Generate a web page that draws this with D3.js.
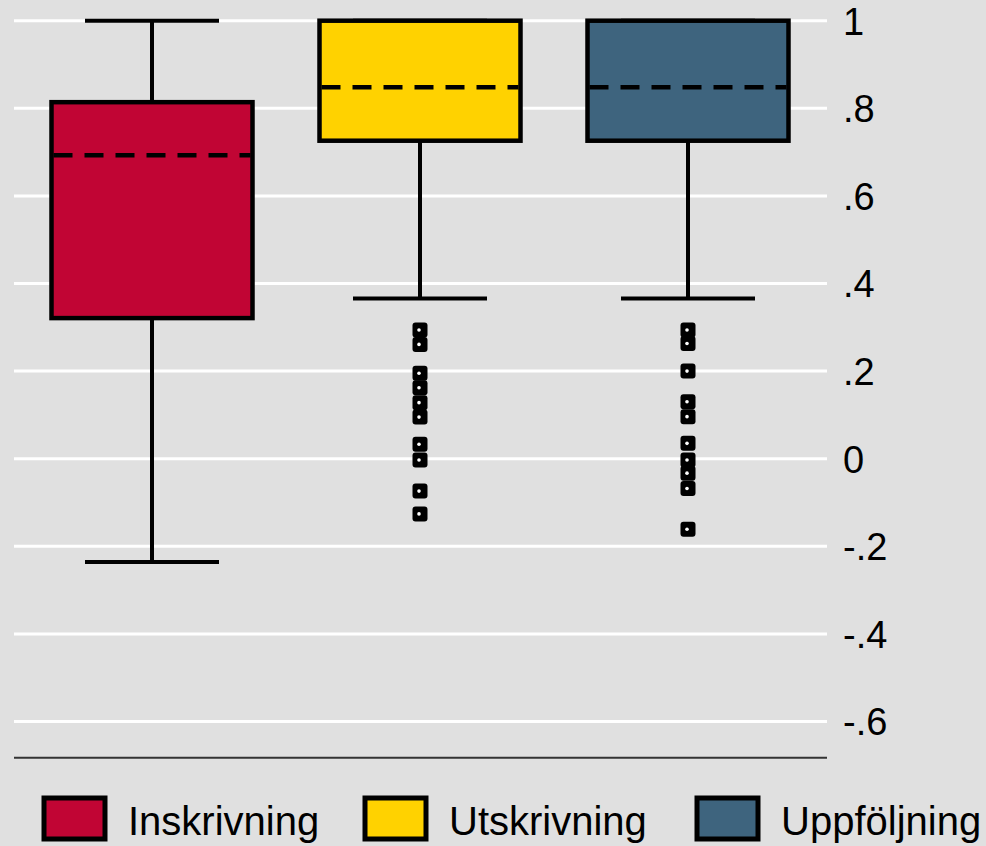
<!DOCTYPE html>
<html>
<head>
<meta charset="utf-8">
<script src="https://cdn.jsdelivr.net/npm/d3@7"></script>
<style>
  body { margin: 0; background: #e0e0e0; }
  svg { display: block; font-family: "Liberation Sans", Arial, sans-serif; }
</style>
</head>
<body>
<div id="chart"></div>
<script>
// categories and box statistics
const groups = ["Inskrivning", "Utskrivning", "Uppföljning"];
const colors = ["#c10534", "#ffd200", "#3e647e"];
const lowerWhisker = [-0.236, 0.366, 0.366];
const q1 = [0.321, 0.726, 0.726];
const median = [0.693, 0.848, 0.848];
const q3 = [0.814, 1, 1];
const upperWhisker = [1, 1, 1];
const outliers = [
    [],
    [0.294, 0.261, 0.195, 0.162, 0.128, 0.095, 0.033, -0.003, -0.074, -0.126],
    [0.294, 0.263, 0.200, 0.130, 0.096, 0.035, -0.003, -0.033, -0.068, -0.161]
];
const yTicks = [1, 0.8, 0.6, 0.4, 0.2, 0, -0.2, -0.4, -0.6];

const width = 986, height = 846;

const svg = d3.select("#chart").append("svg")
    .attr("width", width)
    .attr("height", height);

svg.append("rect").attr("width", width).attr("height", height).attr("fill", "#e0e0e0");

const x = d3.scaleBand().domain(groups).range([18, 822])
    .paddingInner(0.25).paddingOuter(0.125);
const y = d3.scaleLinear().domain([-0.6, 1]).range([721.5, 20.7]);

// stata style labels: 1, .8, 0, -.2
const fmt = d => {
    if (d === 0) return "0";
    if (d === 1) return "1";
    return d3.format(".1f")(d).replace("−", "-").replace(/^(-?)0\./, "$1.");
};

// gridlines
svg.append("g")
    .selectAll("line")
    .data(yTicks)
    .join("line")
    .attr("x1", 14).attr("x2", 827)
    .attr("y1", d => y(d)).attr("y2", d => y(d))
    .attr("stroke", "#ffffff")
    .attr("stroke-width", 3);

// right axis labels
const yAxis = d3.axisRight(y).tickValues(yTicks).tickFormat(fmt).tickSize(0).tickPadding(0);
const axisG = svg.append("g")
    .attr("transform", "translate(843,0)")
    .call(yAxis);
axisG.select(".domain").remove();
axisG.selectAll("text")
    .attr("font-size", 38)
    .attr("font-family", "'Liberation Sans', Arial, sans-serif")
    .attr("fill", "#000")
    .attr("dy", "0.35em");

// bottom axis line
svg.append("line")
    .attr("x1", 14).attr("x2", 827)
    .attr("y1", 757.7).attr("y2", 757.7)
    .attr("stroke", "#333")
    .attr("stroke-width", 2);

const boxes = svg.append("g")
    .selectAll("g")
    .data(groups)
    .join("g");

const cx = g => x(g) + x.bandwidth() / 2;
const capHalf = x.bandwidth() / 3;

// whiskers
boxes.append("line")
    .attr("x1", d => cx(d)).attr("x2", d => cx(d))
    .attr("y1", (d, i) => y(lowerWhisker[i])).attr("y2", (d, i) => y(q1[i]))
    .attr("stroke", "#000").attr("stroke-width", 4);
boxes.append("line")
    .attr("x1", d => cx(d)).attr("x2", d => cx(d))
    .attr("y1", (d, i) => y(q3[i])).attr("y2", (d, i) => y(upperWhisker[i]))
    .attr("stroke", "#000").attr("stroke-width", 4);
boxes.append("line")
    .attr("x1", d => cx(d) - capHalf).attr("x2", d => cx(d) + capHalf)
    .attr("y1", (d, i) => y(lowerWhisker[i])).attr("y2", (d, i) => y(lowerWhisker[i]))
    .attr("stroke", "#000").attr("stroke-width", 4);
boxes.append("line")
    .attr("x1", d => cx(d) - capHalf).attr("x2", d => cx(d) + capHalf)
    .attr("y1", (d, i) => y(upperWhisker[i])).attr("y2", (d, i) => y(upperWhisker[i]))
    .attr("stroke", "#000").attr("stroke-width", 4);

// box
boxes.append("rect")
    .attr("x", d => x(d))
    .attr("width", x.bandwidth())
    .attr("y", (d, i) => y(q3[i]))
    .attr("height", (d, i) => y(q1[i]) - y(q3[i]))
    .attr("fill", (d, i) => colors[i])
    .attr("stroke", "#000")
    .attr("stroke-width", 4.5);

// median dashed
boxes.append("line")
    .attr("x1", d => x(d) + 2).attr("x2", d => x(d) + x.bandwidth() - 2)
    .attr("y1", (d, i) => y(median[i])).attr("y2", (d, i) => y(median[i]))
    .attr("stroke", "#000").attr("stroke-width", 4.5)
    .attr("stroke-dasharray", "19 12");

// outliers
boxes.each(function(d, i) {
    const g = d3.select(this);
    const pts = g.selectAll("g.out")
        .data(outliers[i])
        .join("g")
        .attr("class", "out")
        .attr("transform", v => `translate(${cx(d)},${y(v)})`);
    pts.append("rect")
        .attr("x", -7.5).attr("y", -7.5)
        .attr("width", 15).attr("height", 15)
        .attr("rx", 3)
        .attr("fill", "#000");
    pts.append("circle")
        .attr("cx", -1).attr("cy", 0)
        .attr("r", 1.8)
        .attr("fill", "#fff");
});

// legend
const legendX = [42, 363, 695];
const legend = svg.append("g")
    .selectAll("g")
    .data(groups)
    .join("g")
    .attr("transform", (d, i) => `translate(${legendX[i]},796)`);
legend.append("rect")
    .attr("x", 2).attr("y", 2)
    .attr("width", 61).attr("height", 41)
    .attr("fill", (d, i) => colors[i])
    .attr("stroke", "#000")
    .attr("stroke-width", 5);
legend.append("text")
    .attr("x", 86)
    .attr("y", 39)
    .attr("font-size", 40)
    .attr("fill", "#000")
    .text(d => d);
</script>
</body>
</html>
